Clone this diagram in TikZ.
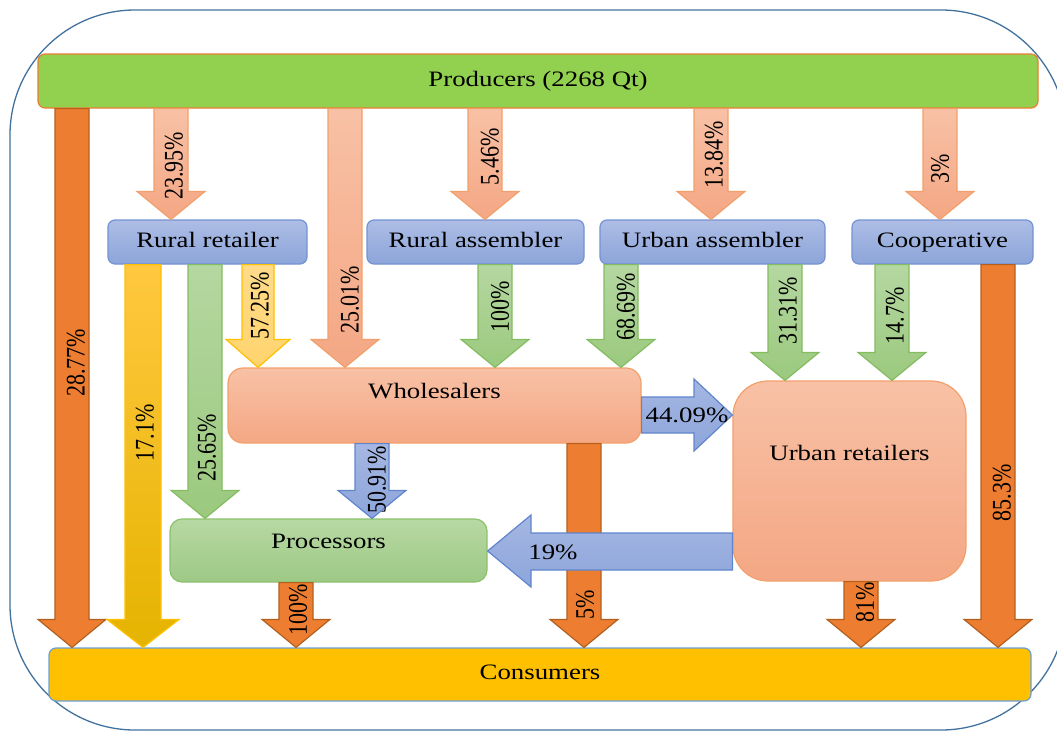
\documentclass[tikz,border=0pt]{standalone}
\usepackage{fontspec}
\setmainfont{Liberation Serif}
\usetikzlibrary{calc}

\definecolor{frameblue}{HTML}{41719C}
\definecolor{prodfill}{HTML}{92D050}
\definecolor{orangeline}{HTML}{ED7D31}
\definecolor{roletop}{HTML}{ADBDE5}
\definecolor{rolebot}{HTML}{8DA5DA}
\definecolor{roleline}{HTML}{7393D3}
\definecolor{salmontop}{HTML}{F8C1A5}
\definecolor{salmonbot}{HTML}{F4A784}
\definecolor{salmonline}{HTML}{F2A06B}
\definecolor{proctop}{HTML}{B7D8A3}
\definecolor{procbot}{HTML}{9DC985}
\definecolor{procline}{HTML}{8CC16B}
\definecolor{consfill}{HTML}{FFC000}
\definecolor{consline}{HTML}{6A9FD6}
\definecolor{darkfill}{HTML}{ED7D31}
\definecolor{darkline}{HTML}{B3601F}
\definecolor{greentop}{HTML}{B5D7A1}
\definecolor{greenbot}{HTML}{9BC97E}
\definecolor{greenline}{HTML}{84BC60}
\definecolor{goldtop}{HTML}{FFC83F}
\definecolor{goldbot}{HTML}{E5B300}
\definecolor{paletop}{HTML}{FFDB8A}
\definecolor{palebot}{HTML}{FFD46E}
\definecolor{bluetop}{HTML}{A5B7E3}
\definecolor{bluebot}{HTML}{8DA5DA}
\definecolor{blueline}{HTML}{5F85CD}

% text is a little wider than tall in the drawing
\newcommand{\wide}[1]{\scalebox{1.22}[1]{#1}}
\newcommand{\tall}[1]{\scalebox{1}[1.22]{#1}}

% block arrow pointing down: style, centre x, half shaft width, from node, to node
\newcommand{\flowdown}[5]{%
  \path[#1] (#2-#3,0 |- #4.south) -- (#2+#3,0 |- #4.south)
    -- ($(#2+#3,0 |- #5.north)+(0,-28)$) -- ($(#2+2*#3,0 |- #5.north)+(0,-28)$)
    -- (#2,0 |- #5.north)
    -- ($(#2-2*#3,0 |- #5.north)+(0,-28)$) -- ($(#2-#3,0 |- #5.north)+(0,-28)$) -- cycle;}

\begin{document}
\begin{tikzpicture}[x=1pt,y=-1pt,font=\fontsize{22}{26}\selectfont]
  \clip (0,0) rectangle (1057,731);
  \tikzset{
    frame/.style={draw=frameblue, line width=1.3pt, rounded corners=125pt},
    box/.style={draw, line width=1.2pt, rounded corners=7pt, inner sep=0pt, text height=15pt, text depth=5pt},
    prodbox/.style={box, fill=prodfill, draw=orangeline},
    rolebox/.style={box, top color=roletop, bottom color=rolebot, draw=roleline, minimum height=44pt},
    tradebox/.style={box, top color=salmontop, bottom color=salmonbot, draw=salmonline, rounded corners=15pt},
    procbox/.style={box, top color=proctop, bottom color=procbot, draw=procline, rounded corners=12pt},
    consbox/.style={box, fill=consfill, draw=consline},
    darkarr/.style={fill=darkfill, draw=darkline, line width=1.2pt},
    salmonarr/.style={top color=salmontop, bottom color=salmonbot, draw=salmonline, line width=1.2pt},
    greenarr/.style={top color=greentop, bottom color=greenbot, draw=greenline, line width=1.2pt},
    goldarr/.style={top color=goldtop, bottom color=goldbot, draw=consfill, line width=1.2pt},
    palearr/.style={top color=paletop, bottom color=palebot, draw=consfill, line width=1.2pt},
    bluearr/.style={top color=bluetop, bottom color=bluebot, draw=blueline, line width=1.2pt},
    vlbl/.style={rotate=90, inner sep=0pt},
    hlbl/.style={inner sep=0pt}
  }

  \draw[frame] (10,10) rectangle (1066,730);

  % actors
  \node[prodbox, minimum width=1000pt, minimum height=54pt] (prod) at (538,81) {\wide{Producers (2268 Qt)}};
  \node[rolebox, minimum width=199pt] (rret) at (207.5,242) {\wide{Rural retailer}};
  \node[rolebox, minimum width=217pt] (rasm) at (475.5,242) {\wide{Rural assembler}};
  \node[rolebox, minimum width=225pt] (uasm) at (712.5,242) {\wide{Urban assembler}};
  \node[rolebox, minimum width=181pt] (coop) at (942.5,242) {\wide{Cooperative}};
  \node[tradebox, minimum width=413pt, minimum height=75pt, text depth=29pt] (whole) at (434.5,405.5) {\wide{Wholesalers}};
  \node[tradebox, rounded corners=35pt, minimum width=233pt, minimum height=200pt, text depth=57pt] (uret) at (849.5,481) {\wide{Urban retailers}};
  \node[procbox, minimum width=317pt, minimum height=63pt, text depth=19pt] (proc) at (328.5,550.5) {\wide{Processors}};
  \node[consbox, minimum width=982pt, minimum height=53pt] (cons) at (540,674.5) {\wide{Consumers}};

  % flows out of the producers
  \flowdown{darkarr}{72}{17}{prod}{cons}
  \flowdown{salmonarr}{171}{17}{prod}{rret}
  \flowdown{salmonarr}{345}{17}{prod}{whole}
  \flowdown{salmonarr}{485}{17}{prod}{rasm}
  \flowdown{salmonarr}{711}{17}{prod}{uasm}
  \flowdown{salmonarr}{940}{17}{prod}{coop}

  % flows out of the middlemen
  \flowdown{goldarr}{143}{18}{rret}{cons}
  \flowdown{greenarr}{205}{17}{rret}{proc}
  \flowdown{palearr}{258}{16}{rret}{whole}
  \flowdown{greenarr}{495}{17}{rasm}{whole}
  \flowdown{greenarr}{621}{17}{uasm}{whole}
  \flowdown{greenarr}{785}{17}{uasm}{uret}
  \flowdown{greenarr}{892}{17}{coop}{uret}
  \flowdown{darkarr}{998}{17}{coop}{cons}
  \flowdown{bluearr}{372}{17}{whole}{proc}
  \flowdown{darkarr}{584}{17}{whole}{cons}
  \flowdown{darkarr}{296}{17}{proc}{cons}
  \flowdown{darkarr}{861}{17}{uret}{cons}

  \path[bluearr] (whole.east |- 0,397) -- (694,397) -- (694,379) -- (uret.west |- 0,415)
    -- (694,451) -- (694,433) -- (whole.east |- 0,433) -- cycle;
  \path[bluearr] (uret.west |- 0,533) -- (531,533) -- (531,515) -- (proc.east |- 0,551)
    -- (531,587) -- (531,570) -- (uret.west |- 0,570) -- cycle;

  % shares
  \node[vlbl] (lprodcons) at (76,363) {\tall{28.77\%}};
  \node[vlbl] (lprodrret) at (174,166) {\tall{23.95\%}};
  \node[vlbl] (lprodwhole) at (350,300) {\tall{25.01\%}};
  \node[vlbl] (lprodrasm) at (490,157) {\tall{5.46\%}};
  \node[vlbl] (lproduasm) at (714,155) {\tall{13.84\%}};
  \node[vlbl] (lprodcoop) at (940,169) {\tall{3\%}};
  \node[vlbl] (lrretcons) at (145,433) {\tall{17.1\%}};
  \node[vlbl] (lrretproc) at (207,448) {\tall{25.65\%}};
  \node[vlbl] (lrretwhole) at (260,306) {\tall{57.25\%}};
  \node[vlbl] (lrasmwhole) at (500,307) {\tall{100\%}};
  \node[vlbl] (luasmwhole) at (626,307) {\tall{68.69\%}};
  \node[vlbl] (luasmuret) at (788,311) {\tall{31.31\%}};
  \node[vlbl] (lcoopuret) at (895,316) {\tall{14.7\%}};
  \node[vlbl] (lcoopcons) at (1002,493) {\tall{85.3\%}};
  \node[vlbl] (lwholeproc) at (377,480) {\tall{50.91\%}};
  \node[vlbl] (lwholecons) at (585,605) {\tall{5\%}};
  \node[vlbl] (lproccons) at (298,610) {\tall{100\%}};
  \node[vlbl] (luretcons) at (865,602) {\tall{81\%}};
  \node[hlbl] (lwholeuret) at (687,415) {\wide{44.09\%}};
  \node[hlbl] (luretproc) at (553,552) {\wide{19\%}};
\end{tikzpicture}
\end{document}
